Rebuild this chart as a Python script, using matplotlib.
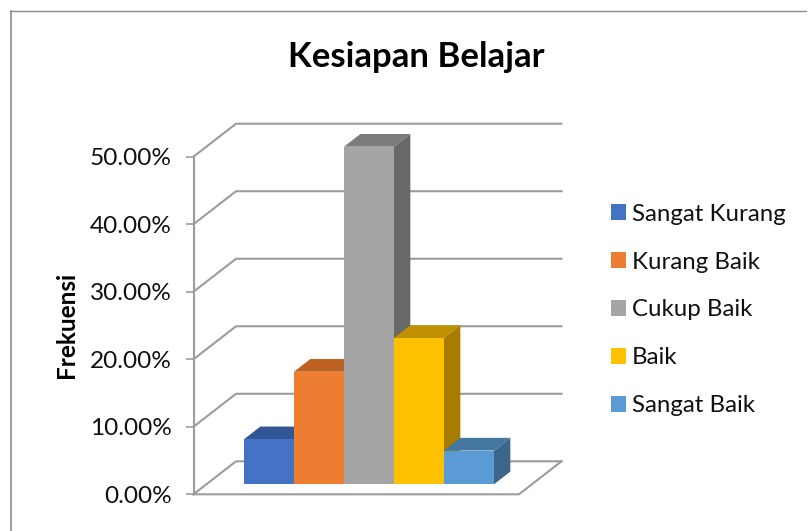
import matplotlib
matplotlib.use('Agg')
import matplotlib.pyplot as plt
from matplotlib.lines import Line2D
from matplotlib.patches import Polygon

plt.rcParams['font.family'] = ['Lato', 'DejaVu Sans']

categories = ['Sangat Kurang', 'Kurang Baik', 'Cukup Baik', 'Baik', 'Sangat Baik']
values = [6.67, 16.67, 50.0, 21.67, 5.0]
ticks = [0, 10, 20, 30, 40, 50]
tick_labels = ['0.00%', '10.00%', '20.00%', '30.00%', '40.00%', '50.00%']

front_colors = ['#4472C4', '#ED7D31', '#A5A5A5', '#FFC000', '#5B9BD5']
top_colors = ['#325594', '#BE6120', '#7C7C7C', '#BF9000', '#4477A0']
side_colors = ['#2A4A80', '#9E5018', '#696969', '#A67D00', '#3B658B']

W, H = 809, 531
GRID = '#9C9C9C'
fig = plt.figure(figsize=(W / 100, H / 100), dpi=100)

# front plane of the fake 3d box, in pixels
left, right, top, bottom = 193.5, 519, 156.7, 494.3
ax = fig.add_axes([left / W, 1 - bottom / H, (right - left) / W, (bottom - top) / H])
ax.set_xlim(-1.252, 5.258)
ax.set_ylim(0, 50)

# depth of the box in data units
DX = 42.5 / 50
DY = 33 / 6.752
d0, d1 = 0.303, 0.688
xmin, xmax = ax.get_xlim()

for t in ticks:
    ax.plot([xmin, xmin + DX, xmax + DX], [t, t + DY, t + DY], color=GRID, lw=1.5,
            clip_on=False, zorder=1, solid_joinstyle='miter')
ax.plot([xmin, xmax, xmax + DX], [0, 0, DY], color=GRID, lw=1.5, clip_on=False, zorder=1)


def off(d):
    return d * DX, d * DY


ox0, oy0 = off(d0)
ox1, oy1 = off(d1)
w = 1.0
handles = []
for i, v in enumerate(values):
    xl = i - w / 2 + ox0
    xr = i + w / 2 + ox0
    y0 = oy0
    y1 = v + oy0
    dx = ox1 - ox0
    dy = oy1 - oy0
    z = 2 + i
    ax.add_patch(Polygon([(xr, y0), (xr + dx, y0 + dy), (xr + dx, y1 + dy), (xr, y1)],
                         facecolor=side_colors[i], edgecolor='none', clip_on=False, zorder=z))
    ax.add_patch(Polygon([(xl, y1), (xr, y1), (xr + dx, y1 + dy), (xl + dx, y1 + dy)],
                         facecolor=top_colors[i], edgecolor='none', clip_on=False, zorder=z))
    b = ax.bar(i + ox0, v, width=w, bottom=oy0, color=front_colors[i], clip_on=False,
               zorder=z + 0.5, label=categories[i])
    handles.append(b[0])

for s in ['top', 'right', 'bottom']:
    ax.spines[s].set_visible(False)
ax.spines['left'].set_color(GRID)
ax.spines['left'].set_linewidth(1.5)
ax.set_xticks([])
ax.set_yticks(ticks)
ax.set_yticklabels(tick_labels, fontsize=17.6, color='#111111')
ax.tick_params(axis='y', length=5.5, width=1.2, color=GRID, pad=10)

fig.text(416 / W, 1 - 57 / H, 'Kesiapan Belajar', fontsize=25, fontweight='bold',
         ha='center', va='center', color='black')
fig.text(66 / W, 1 - 325 / H, 'Frekuensi', fontsize=17.5, fontweight='bold', rotation=90,
         ha='center', va='center', color='black')

fig.legend(handles=handles, labels=categories, loc='center left',
           bbox_to_anchor=(589 / W, 1 - 310 / H), frameon=False, fontsize=17.3,
           handlelength=0.625, handleheight=0.625, handletextpad=0.27, labelspacing=1.12,
           labelcolor='#111111')

# outer chart frame, only top and left show
fig.add_artist(Line2D([11 / W, 11 / W], [0, 1 - 11 / H], color='#8C8C8C', lw=1.2))
fig.add_artist(Line2D([11 / W, 806 / W], [1 - 11 / H, 1 - 11 / H], color='#8C8C8C', lw=1))

fig.savefig('out.png', dpi=100)
